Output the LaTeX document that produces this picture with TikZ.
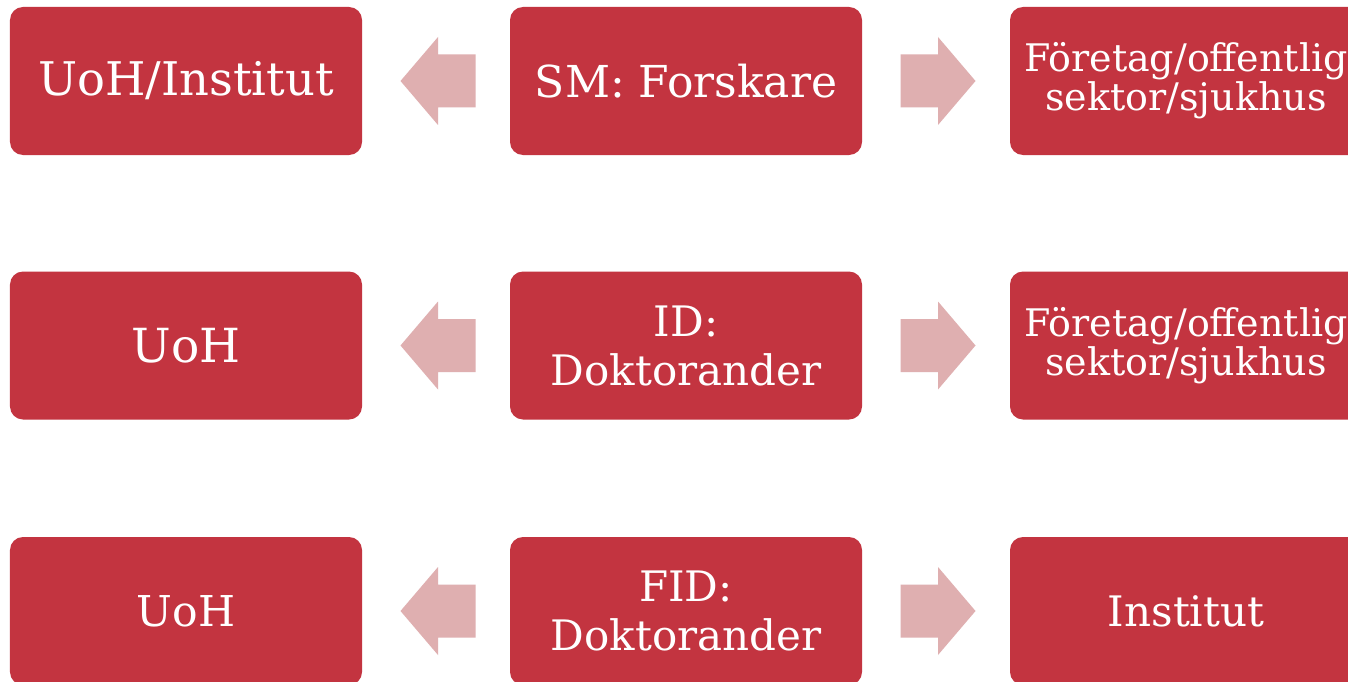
\documentclass[tikz,border=0pt]{standalone}
\usepackage{fontspec}
\setmainfont{DejaVu Serif}
\usetikzlibrary{calc}
\definecolor{boxred}{RGB}{195,52,64}
\definecolor{arrowpink}{RGB}{223,175,176}
\tikzset{
  card/.style={fill=boxred, draw=none, rounded corners=13bp, minimum width=352bp, minimum height=148bp,
    inner sep=0pt, text=white, align=center},
  fsA/.style={font=\fontsize{46.4bp}{48bp}\selectfont},
  fsB/.style={font=\fontsize{44bp}{48bp}\selectfont},
  fsC/.style={font=\fontsize{47bp}{50bp}\selectfont},
  fsG/.style={font=\fontsize{42.5bp}{46bp}\selectfont},
  fsD/.style={font=\fontsize{42bp}{49bp}\selectfont},
  fsE/.style={font=\fontsize{38bp}{39bp}\selectfont},
  fsF/.style={font=\fontsize{42bp}{46bp}\selectfont},
  blockarrow/.style={fill=arrowpink, draw=none},
  pics/larrow/.style={code={
    \path[blockarrow] (-37.5,0) -- (0,-44) -- (0,-26.5) -- (37.5,-26.5) -- (37.5,26.5) -- (0,26.5) -- (0,44) -- cycle;}},
  pics/rarrow/.style={code={
    \path[blockarrow] (37.5,0) -- (0,-44) -- (0,-26.5) -- (-37.5,-26.5) -- (-37.5,26.5) -- (0,26.5) -- (0,44) -- cycle;}}
}
\begin{document}
\begin{tikzpicture}[x=1bp,y=-1bp]
\clip (0,0) rectangle (1348,681);
\fill[white] (0,0) rectangle (1348,681);
% row 1
\node[card,fsA] (l1) at (186,81) {UoH/Institut};
\node[card,fsB] (m1) at (686,81) {SM: Forskare};
\node[card,fsE] (r1) at (1186,81) {Företag/offentlig\\sektor/sjukhus};
% row 2
\node[card,fsC] (l2) at (186,345.5) {UoH};
\node[card,fsD] (m2) at (686,345.5) {ID:\\Doktorander};
\node[card,fsE] (r2) at (1186,345.5) {Företag/offentlig\\sektor/sjukhus};
% row 3
\node[card,fsG] (l3) at (186,611) {UoH};
\node[card,fsD] (m3) at (686,611) {FID:\\Doktorander};
\node[card,fsF] (r3) at (1186,611) {Institut};
% arrows
\foreach \r in {1,2,3}{
  \coordinate (la\r) at ($(l\r.east)!0.5!(m\r.west)+(2,0)$);
  \coordinate (ra\r) at ($(m\r.east)!0.5!(r\r.west)+(2,0)$);
  \pic at (la\r) {larrow};
  \pic at (ra\r) {rarrow};
}
\end{tikzpicture}
\end{document}
